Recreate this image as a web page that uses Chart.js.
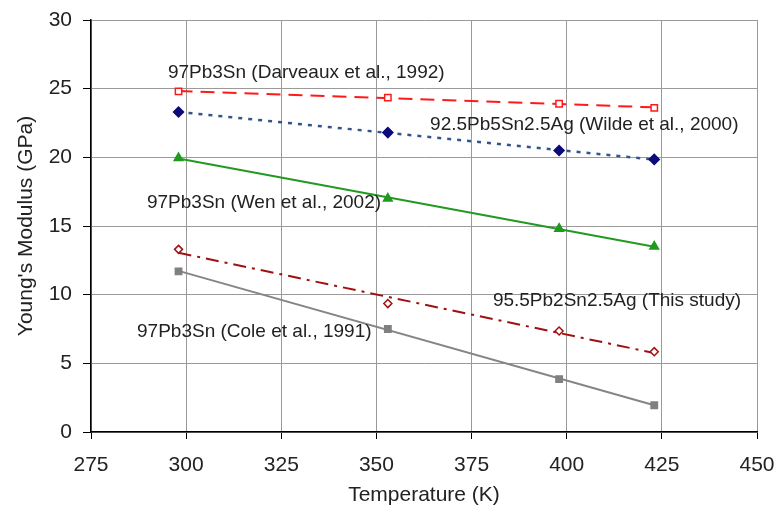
<!DOCTYPE html>
<html>
<head>
<meta charset="utf-8">
<script src="https://cdn.jsdelivr.net/npm/chart.js@4.4.1/dist/chart.umd.min.js"></script>
<style>
  html, body { margin: 0; padding: 0; background: #fff; }
  #wrap { width: 780px; height: 518px; }
</style>
</head>
<body>
<div id="wrap"><canvas id="modulusChart" width="780" height="518"></canvas></div>
<script>
// temperatures (K) shared by all series
const temps = [298, 353, 398, 423];

const darveaux = [24.8, 24.35, 23.9, 23.6];
const wilde = [23.3, 21.8, 20.5, 19.85];
const wen = [19.95, 17.0, 14.8, 13.5];
const thisStudy = [13.3, 9.35, 7.35, 5.85];
const cole = [11.7, 7.5, 3.85, 1.95];

const seriesLabels = [
    '97Pb3Sn (Darveaux et al., 1992)',
    '92.5Pb5Sn2.5Ag (Wilde et al., 2000)',
    '97Pb3Sn (Wen et al., 2002)',
    '95.5Pb2Sn2.5Ag (This study)',
    '97Pb3Sn (Cole et al., 1991)'
];

const xTicks = [275, 300, 325, 350, 375, 400, 425, 450];
const yTicks = [0, 5, 10, 15, 20, 25, 30];

const FONT = 'Arial, "Liberation Sans", sans-serif';

function points(ys) {
    return temps.map((t, i) => ({ x: t, y: ys[i] }));
}

// linear trendline (least squares) between first and last temperature
function trend(ys) {
    const n = temps.length;
    const mx = temps.reduce((a, b) => a + b, 0) / n;
    const my = ys.reduce((a, b) => a + b, 0) / n;
    let sxy = 0, sxx = 0;
    for (let i = 0; i < n; i++) {
        sxy += (temps[i] - mx) * (ys[i] - my);
        sxx += (temps[i] - mx) * (temps[i] - mx);
    }
    const k = sxy / sxx;
    const x0 = temps[0], x1 = temps[n - 1];
    return [{ x: x0, y: my + k * (x0 - mx) }, { x: x1, y: my + k * (x1 - mx) }];
}

const styles = [
    { data: darveaux, line: '#ff1a1a', dash: [14, 8], width: 2, marker: 'rect', mColor: '#ff1a1a', fill: '#ffffff', r: 4.5 },
    { data: wilde, line: '#34558b', dash: [4, 6], width: 2.5, marker: 'rectRot', mColor: '#0b0b7a', fill: '#0b0b7a', r: 5 },
    { data: wen, line: '#229a22', dash: [], width: 2, marker: 'triangle', mColor: '#1f9a1f', fill: '#1f9a1f', r: 5 },
    { data: thisStudy, line: '#a01010', dash: [13, 6, 3, 6], width: 2, marker: 'rectRot', mColor: '#a01010', fill: '#ffffff', r: 4 },
    { data: cole, line: '#858585', dash: [], width: 2, marker: 'rect', mColor: '#808080', fill: '#808080', r: 4.5 }
];

const datasets = [];
styles.forEach((s, i) => {
    datasets.push({
        label: seriesLabels[i] + ' trend',
        data: trend(s.data),
        showLine: true,
        borderColor: s.line,
        borderWidth: s.width,
        borderDash: s.dash,
        pointRadius: 0,
        fill: false,
        order: 1
    });
    datasets.push({
        label: seriesLabels[i],
        data: points(s.data),
        showLine: false,
        pointStyle: s.marker,
        pointRadius: s.r,
        pointBorderWidth: 1.5,
        pointBorderColor: s.mColor,
        pointBackgroundColor: s.fill,
        order: 0
    });
});

// where the series names sit, in data units
const labelSpots = [
    { x: 295.2, y: 26.15 },
    { x: 364.1, y: 22.35 },
    { x: 289.7, y: 16.67 },
    { x: 380.6, y: 9.54 },
    { x: 287.1, y: 7.28 }
];

const seriesNames = {
    id: 'seriesNames',
    afterDatasetsDraw(chart) {
        const { ctx, scales: { x, y } } = chart;
        ctx.save();
        ctx.font = '19px ' + FONT;
        ctx.fillStyle = '#222';
        ctx.textAlign = 'left';
        ctx.textBaseline = 'middle';
        seriesLabels.forEach((txt, i) => {
            ctx.fillText(txt, x.getPixelForValue(labelSpots[i].x), y.getPixelForValue(labelSpots[i].y));
        });
        ctx.restore();
    }
};

const ctxModulus = document.getElementById('modulusChart').getContext('2d');
const modulusChart = new Chart(ctxModulus, {
    type: 'scatter',
    data: { datasets: datasets },
    options: {
        responsive: false,
        animation: false,
        layout: {
            padding: { top: 20, right: 23, left: 0, bottom: 0 }
        },
        scales: {
            x: {
                type: 'linear',
                min: xTicks[0],
                max: xTicks[xTicks.length - 1],
                afterBuildTicks: (scale) => { scale.ticks = xTicks.map(v => ({ value: v })); },
                afterFit: (scale) => {
                    scale.height = 86;
                    scale.paddingLeft = 0;
                    scale.paddingRight = 0;
                },
                grid: {
                    color: '#9a9a9a',
                    lineWidth: 1,
                    tickLength: 7,
                    tickColor: '#000'
                },
                border: { color: '#000', width: 1.5 },
                ticks: {
                    color: '#222',
                    font: { family: FONT, size: 21 },
                    padding: 14,
                    maxRotation: 0
                },
                title: {
                    display: true,
                    text: 'Temperature (K)',
                    color: '#222',
                    font: { family: FONT, size: 21 },
                    padding: { top: 0, bottom: 10 }
                }
            },
            y: {
                type: 'linear',
                min: yTicks[0],
                max: yTicks[yTicks.length - 1],
                afterBuildTicks: (scale) => { scale.ticks = yTicks.map(v => ({ value: v })); },
                afterFit: (scale) => {
                    scale.width = 91;
                    scale.paddingTop = 0;
                    scale.paddingBottom = 0;
                },
                grid: {
                    color: '#9a9a9a',
                    lineWidth: 1,
                    tickLength: 8,
                    tickColor: '#000'
                },
                border: { color: '#000', width: 1.5 },
                ticks: {
                    color: '#222',
                    font: { family: FONT, size: 21 },
                    padding: 11
                },
                title: {
                    display: true,
                    text: "Young's Modulus (GPa)",
                    color: '#222',
                    font: { family: FONT, size: 21 },
                    padding: { top: 14, bottom: 0 }
                }
            }
        },
        plugins: {
            legend: { display: false },
            tooltip: { enabled: false }
        }
    },
    plugins: [seriesNames]
});
</script>
</body>
</html>
